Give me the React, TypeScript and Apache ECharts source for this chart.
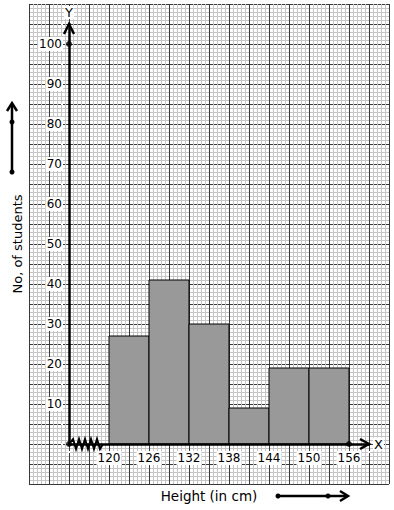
import React, { useEffect, useRef } from "react";
import * as echarts from "echarts";

const classStarts = [120, 126, 132, 138, 144, 150];
const classEnds = [126, 132, 138, 144, 150, 156];
const frequencies = [27, 41, 30, 9, 19, 19];
const xTickLabels = [120, 126, 132, 138, 144, 150, 156];
const yTickLabels = [10, 20, 30, 40, 50, 60, 70, 80, 90, 100];
const xAxisTitle = "Height (in cm)";
const yAxisTitle = "No, of students";
const xAxisLetter = "X";
const yAxisLetter = "Y";

const FONT = "DejaVu Sans";

export default function App() {
  const ref = useRef<HTMLDivElement>(null);
  useEffect(() => {
    const chart = echarts.init(ref.current!, null, { renderer: "svg" });
    const xMinB = 114;
    const xMaxB = 159;
    const yMaxB = 105;
    const option: any = {
      animation: false,
      backgroundColor: "#fff",
      grid: [
        { left: 29, top: 4, width: 360, height: 480 },
        { left: 69, top: 24, width: 300, height: 420 },
      ],
      xAxis: [
        {
          gridIndex: 0,
          type: "value",
          min: 108,
          max: 162,
          interval: 3,
          z: 1,
          axisLine: { show: false },
          axisTick: { show: false },
          axisLabel: { show: false },
          splitLine: { show: true, lineStyle: { color: "#3a3a3a", width: 1 } },
          minorTick: { show: false, splitNumber: 5 },
          minorSplitLine: { show: true, lineStyle: { color: "#c6c6c6", width: 1 } },
          name: xAxisTitle,
          nameLocation: "middle",
          nameGap: 5,
          nameTextStyle: { fontFamily: FONT, fontSize: 13.5, color: "#000", verticalAlign: "top" },
        },
        {
          gridIndex: 1,
          type: "value",
          min: xMinB,
          max: xMaxB,
          interval: 6,
          z: 5,
          axisLine: { show: true, onZero: false, lineStyle: { color: "#000", width: 2.5 } },
          axisTick: { show: false },
          splitLine: { show: false },
          axisLabel: {
            show: true,
            margin: 7,
            fontFamily: FONT,
            fontSize: 12,
            color: "#000",
            backgroundColor: "#fff",
            padding: [1, 1],
            formatter: (v: number) => (xTickLabels.includes(v) ? String(v) : ""),
          },
          name: xAxisLetter,
          nameLocation: "end",
          nameGap: 4,
          nameTextStyle: { fontFamily: FONT, fontSize: 13, color: "#000", backgroundColor: "#fff", padding: [0, 1] },
        },
      ],
      yAxis: [
        {
          gridIndex: 0,
          type: "value",
          min: -10,
          max: 110,
          interval: 5,
          z: 0,
          axisLine: { show: false },
          axisTick: { show: false },
          axisLabel: { show: false },
          splitLine: { show: true, lineStyle: { color: "#3a3a3a", width: 1 } },
          minorTick: { show: false, splitNumber: 5 },
          minorSplitLine: { show: true, lineStyle: { color: "#c6c6c6", width: 1 } },
          name: yAxisTitle,
          nameLocation: "middle",
          nameRotate: 90,
          nameGap: 5,
          nameTextStyle: { fontFamily: FONT, fontSize: 13, color: "#000" },
        },
        {
          gridIndex: 1,
          type: "value",
          min: 0,
          max: yMaxB,
          interval: 5,
          z: 5,
          axisLine: { show: true, onZero: false, lineStyle: { color: "#000", width: 2.5 } },
          axisTick: { show: false },
          splitLine: { show: false },
          axisLabel: {
            show: true,
            margin: 6,
            fontFamily: FONT,
            fontSize: 12,
            color: "#000",
            backgroundColor: "#fff",
            padding: [1, 1],
            formatter: (v: number) => (yTickLabels.includes(v) ? String(v) : ""),
          },
          name: yAxisLetter,
          nameLocation: "end",
          nameGap: 5,
          nameTextStyle: { fontFamily: FONT, fontSize: 13, color: "#000", backgroundColor: "#fff", padding: [0, 1] },
        },
      ],
      series: [
        {
          type: "custom",
          xAxisIndex: 1,
          yAxisIndex: 1,
          z: 3,
          encode: { x: [0, 1], y: 2 },
          data: classStarts.map((s, i) => [s, classEnds[i], frequencies[i]]),
          renderItem: (_p: any, api: any) => {
            const a = api.coord([api.value(0), api.value(2)]);
            const b = api.coord([api.value(1), 0]);
            return {
              type: "rect",
              shape: { x: a[0], y: a[1], width: b[0] - a[0], height: b[1] - a[1] },
              style: { fill: "#999999", stroke: "#000", lineWidth: 1 },
            };
          },
        },
        {
          type: "scatter",
          xAxisIndex: 1,
          yAxisIndex: 1,
          z: 6,
          symbolSize: 6,
          itemStyle: { color: "#000" },
          data: [
            [xMinB, 0],
            [xMinB, yTickLabels[yTickLabels.length - 1]],
            [xTickLabels[xTickLabels.length - 1], 0],
          ],
        },
      ],
    };
    chart.setOption(option);

    const o = chart.convertToPixel({ gridIndex: 1 }, [xMinB, 0]) as number[];
    const yTop = (chart.convertToPixel({ gridIndex: 1 }, [xMinB, yMaxB]) as number[])[1];
    const xEnd = (chart.convertToPixel({ gridIndex: 1 }, [xMaxB, 0]) as number[])[0];
    const zig: number[][] = [[o[0], o[1]]];
    for (let k = 0; k < 10; k++) {
      zig.push([o[0] + 4 + k * 3, o[1] + (k % 2 === 0 ? -5 : 5)]);
    }
    zig.push([o[0] + 34, o[1]]);
    const black = { stroke: "#000", lineWidth: 2.5, fill: null };
    chart.setOption({
      graphic: [
        { type: "polyline", z: 10, shape: { points: [[o[0] - 5, yTop + 10], [o[0], yTop], [o[0] + 5, yTop + 10]] }, style: black },
        { type: "polyline", z: 10, shape: { points: [[xEnd - 9, o[1] - 5], [xEnd, o[1]], [xEnd - 9, o[1] + 5]] }, style: black },
        { type: "polyline", z: 10, shape: { points: zig }, style: { stroke: "#000", lineWidth: 2, fill: null } },
        { type: "line", z: 10, shape: { x1: 12, y1: 172, x2: 12, y2: 104 }, style: { stroke: "#000", lineWidth: 2.5 } },
        { type: "polyline", z: 10, shape: { points: [[7, 111], [12, 103], [17, 111]] }, style: black },
        { type: "circle", z: 10, shape: { cx: 12, cy: 122, r: 2.5 }, style: { fill: "#000" } },
        { type: "circle", z: 10, shape: { cx: 12, cy: 172, r: 2.5 }, style: { fill: "#000" } },
        { type: "line", z: 10, shape: { x1: 278, y1: 496, x2: 348, y2: 496 }, style: { stroke: "#000", lineWidth: 2.5 } },
        { type: "polyline", z: 10, shape: { points: [[340, 491], [348, 496], [340, 501]] }, style: black },
        { type: "circle", z: 10, shape: { cx: 278, cy: 496, r: 2.5 }, style: { fill: "#000" } },
        { type: "circle", z: 10, shape: { cx: 328, cy: 496, r: 2.5 }, style: { fill: "#000" } },
      ],
    });
    return () => chart.dispose();
  }, []);
  return <div ref={ref} style={{ position: "absolute", left: 0, top: 0, width: 394, height: 510 }} />;
}
